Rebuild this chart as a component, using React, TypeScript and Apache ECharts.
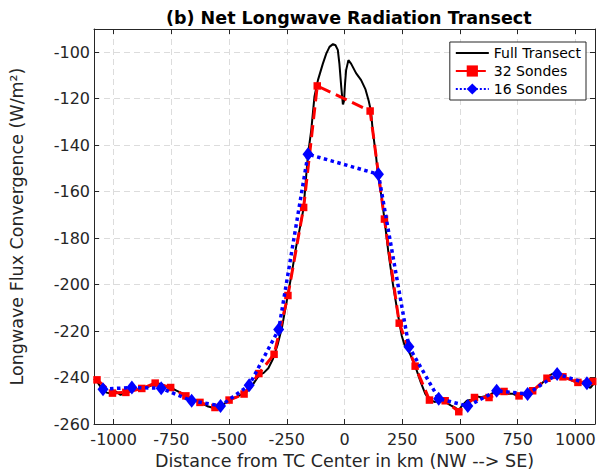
import React, { useEffect, useRef } from "react";
import * as echarts from "echarts";

const transectKm = [-1085,-1070,-1050,-1030,-1010,-990,-970,-950,-930,-910,-890,-870,-850,-830,-810,-790,-770,-750,-730,-710,-690,-670,-650,-630,-610,-590,-570,-550,-530,-510,-490,-470,-450,-430,-410,-390,-370,-350,-330,-310,-290,-270,-250,-230,-210,-190,-177,-165,-158,-144,-130,-115,-94,-79,-65,-50,-39,-29,-22,-14,-7,-2,2,7,17,29,50,72,91,105,115,122,137,144,160,173,190,210,230,248,260,280,306,330,350,368,390,410,436,460,480,495,510,530,550,570,590,610,630,650,670,690,710,730,750,770,790,810,830,850,870,890,910,930,950,970,990,1010,1030,1050,1065,1085];
const transectVal = [-240.5,-242,-245,-246.5,-247,-246,-247.5,-246.5,-246,-245,-245.5,-244.5,-244,-243,-242.5,-243,-244,-244.5,-245.5,-246.5,-247.5,-249,-249.5,-250.5,-251.5,-252.5,-253,-253,-252,-250.5,-249,-248.5,-247.5,-246.5,-245,-242,-239,-238,-236,-232,-226,-218,-207,-196,-184,-174,-167,-152,-144,-133.5,-119,-112,-105,-100.6,-97.7,-96.5,-97,-99,-105,-115,-122.5,-121,-114,-107.7,-103.4,-105,-109,-112,-116,-121,-125.6,-133.5,-145,-152,-162,-171.8,-186,-200,-212,-222,-226,-229,-235,-242,-247,-249.5,-250.5,-250,-250.5,-252,-253,-254,-252,-250,-249.5,-248,-248.5,-248,-247.5,-246,-245.5,-246,-247,-247,-248,-247.5,-246.5,-246,-244.5,-243,-241,-239,-238,-238.5,-240,-240.5,-241.5,-242,-242.5,-243.5,-244.5,-242];

const sondes32Km = [-1072,-1005,-947,-878,-820,-753,-687,-626,-561,-500,-435,-371,-305,-245,-177,-118,111,173,237,306,368,436,495,563,626,691,756,815,877,946,1011,1075];
const sondes32Val = [-241,-246.7,-246.4,-244.7,-242.4,-244.3,-247.9,-250.7,-252.9,-249.7,-247.1,-238.3,-230,-204.7,-166.8,-114.5,-125.3,-171.8,-216.6,-235.1,-249.7,-250,-254.7,-248.6,-248.6,-246,-247.9,-245.7,-240.3,-239.7,-242.1,-241.7];

const sondes16Km = [-1046,-921,-794,-662,-537,-413,-285,-158,147,279,408,534,659,793,921,1050];
const sondes16Val = [-245,-244.3,-244.6,-250,-252.2,-243.3,-219.3,-143.9,-152.5,-226.7,-249.1,-252.3,-245.7,-247.1,-238.5,-242.5];

const xTicks = [-1000, -750, -500, -250, 0, 250, 500, 750, 1000];
const xMin = -1085;
const xMax = 1085;
const yMin = -260;
const yMax = -90;
const yStep = 20;

const FONT = "DejaVu Sans";
const AXIS_COLOR = "#262626";

export default function App() {
  const ref = useRef<HTMLDivElement>(null);
  useEffect(() => {
    if (!ref.current) return;
    const chart = echarts.init(ref.current, null, { renderer: "svg" });
    const zip = (xs: number[], ys: number[]) => xs.map((x, i) => [x, ys[i]]);
    const gridLine = { show: true, lineStyle: { color: "#dcdcdc", type: [6, 4] as any, width: 1 } };
    chart.setOption({
      animation: false,
      backgroundColor: "#ffffff",
      title: {
        text: "(b) Net Longwave Radiation Transect",
        left: 161,
        top: 4,
        textStyle: { fontFamily: FONT, fontWeight: "bold", fontSize: 17.5, color: "#000" },
      },
      grid: { left: 94, right: 4, top: 29, bottom: 50, containLabel: false },
      legend: {
        orient: "vertical",
        right: 13,
        top: 42,
        padding: [4, 5, 4, 5],
        itemWidth: 33,
        itemHeight: 14,
        itemGap: 4,
        backgroundColor: "#ffffff",
        borderColor: AXIS_COLOR,
        borderWidth: 1,
        textStyle: { fontFamily: FONT, fontSize: 14, color: "#000" },
        data: [
          { name: "Full Transect", icon: "path://M0,0 L33,0 L33,2 L0,2 Z" },
          "32 Sondes",
          "16 Sondes",
        ],
      },
      xAxis: [
        {
          type: "value",
          min: xMin,
          max: xMax,
          position: "bottom",
          name: "Distance from TC Center in km (NW --> SE)",
          nameLocation: "middle",
          nameGap: 28,
          nameTextStyle: { fontFamily: FONT, fontSize: 17.5, color: AXIS_COLOR },
          axisLine: { show: true, onZero: false, lineStyle: { color: AXIS_COLOR } },
          axisTick: { show: true, inside: true, length: 5, customValues: xTicks, lineStyle: { color: AXIS_COLOR } },
          axisLabel: {
            customValues: xTicks,
            margin: 7,
            fontFamily: FONT,
            fontSize: 16,
            color: AXIS_COLOR,
            formatter: (v: number) => String(v),
          },
          splitLine: gridLine,
        },
        {
          type: "value",
          min: xMin,
          max: xMax,
          position: "top",
          axisLine: { show: true, onZero: false, lineStyle: { color: AXIS_COLOR } },
          axisTick: { show: true, inside: true, length: 5, customValues: xTicks, lineStyle: { color: AXIS_COLOR } },
          axisLabel: { show: false },
          splitLine: { show: false },
        },
      ],
      yAxis: [
        {
          type: "value",
          min: yMin,
          max: yMax,
          interval: yStep,
          position: "left",
          name: "Longwave Flux Convergence (W/m²)",
          nameLocation: "middle",
          nameGap: 68,
          nameTextStyle: { fontFamily: FONT, fontSize: 17.5, color: AXIS_COLOR },
          axisLine: { show: true, onZero: false, lineStyle: { color: AXIS_COLOR } },
          axisTick: { show: true, inside: true, length: 5, lineStyle: { color: AXIS_COLOR } },
          axisLabel: {
            showMaxLabel: false,
            margin: 4,
            fontFamily: FONT,
            fontSize: 16,
            color: AXIS_COLOR,
            formatter: (v: number) => String(v),
          },
          splitLine: gridLine,
        },
        {
          type: "value",
          min: yMin,
          max: yMax,
          interval: yStep,
          position: "right",
          axisLine: { show: true, onZero: false, lineStyle: { color: AXIS_COLOR } },
          axisTick: { show: true, inside: true, length: 5, lineStyle: { color: AXIS_COLOR } },
          axisLabel: { show: false },
          splitLine: { show: false },
        },
      ],
      series: [
        {
          name: "Full Transect",
          type: "line",
          data: zip(transectKm, transectVal),
          showSymbol: false,
          symbol: "none",
          lineStyle: { color: "#000000", width: 2 },
          itemStyle: { color: "#000000" },
          z: 3,
        },
        {
          name: "32 Sondes",
          type: "line",
          data: zip(sondes32Km, sondes32Val),
          symbol: "rect",
          symbolSize: 7.5,
          lineStyle: { color: "#ff0000", width: 3, type: [12, 6] },
          itemStyle: { color: "#ff0000" },
          z: 4,
        },
        {
          name: "16 Sondes",
          type: "line",
          data: zip(sondes16Km, sondes16Val),
          symbol: "diamond",
          symbolSize: [11, 14],
          lineStyle: { color: "#0000ff", width: 3.5, type: "dotted" },
          itemStyle: { color: "#0000ff" },
          z: 5,
        },
      ],
    });
    return () => chart.dispose();
  }, []);
  return <div ref={ref} style={{ width: 599, height: 475, position: "absolute", left: 0, top: 0 }} />;
}
